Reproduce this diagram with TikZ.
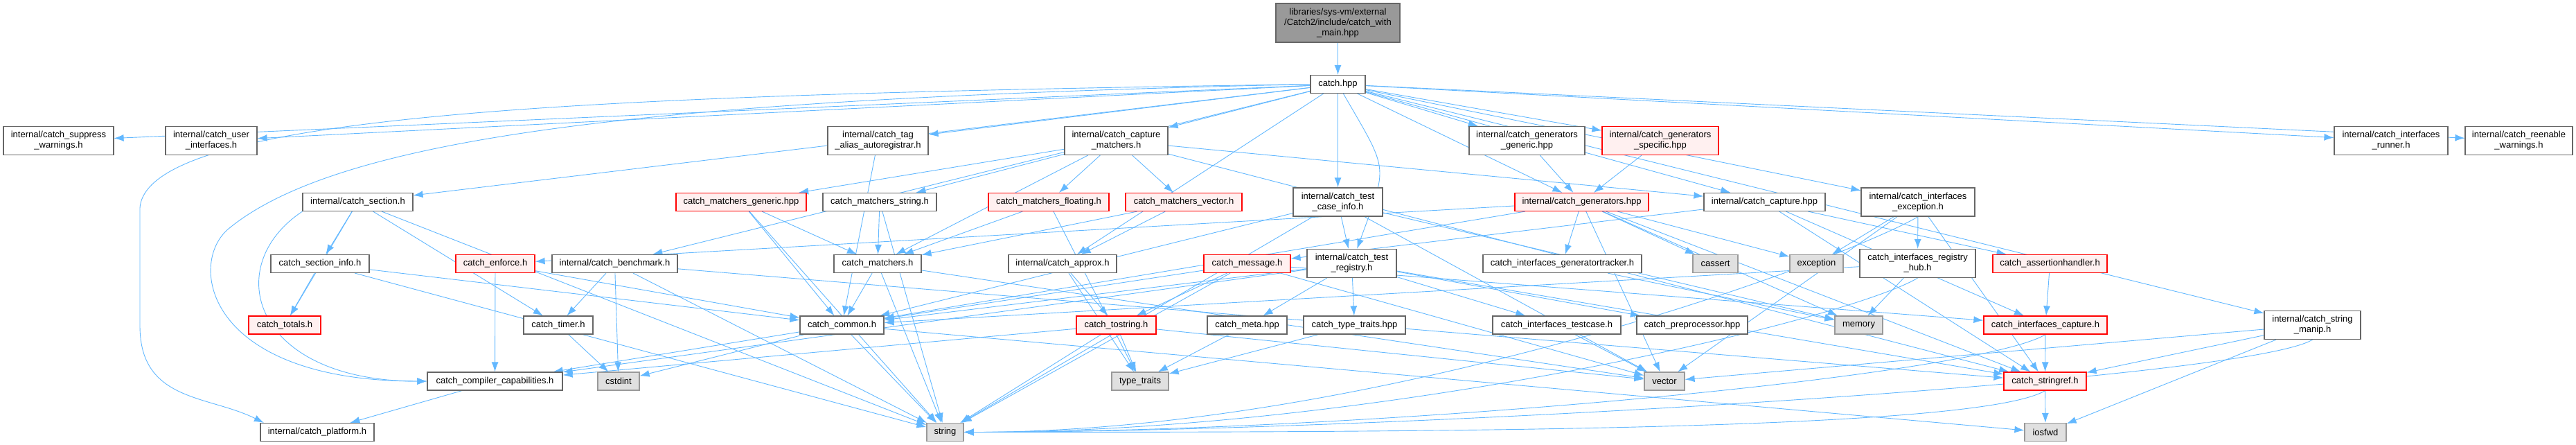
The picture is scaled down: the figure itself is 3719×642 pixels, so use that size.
\documentclass[tikz,border=0pt]{standalone}
\usepackage{fontspec}
\setmainfont{Liberation Sans}
\usepackage{tikz}
\usetikzlibrary{arrows.meta,backgrounds}
\definecolor{edgeBlue}{HTML}{63B8FF}
\definecolor{boxGrey}{HTML}{666666}
\definecolor{leafGrey}{HTML}{999999}
\definecolor{leafFill}{HTML}{E0E0E0}
\definecolor{redFill}{HTML}{FFF0F0}
\definecolor{rootFill}{HTML}{999999}

\begin{document}
\begin{tikzpicture}[x=1pt,y=1pt,
    box/.style={draw=boxGrey,fill=white,line width=1.2pt,inner sep=2pt,
      minimum height=26,align=center,font=\fontsize{13}{15}\selectfont},
    tall/.style={minimum height=41},
    redbox/.style={box,draw=red,fill=redFill},
    leaf/.style={box,draw=leafGrey,fill=leafFill},
    rootbox/.style={box,fill=rootFill,minimum height=56},
    dep/.style={-{Latex[length=14pt,width=10pt]},edgeBlue,line width=0.9pt}]
    \useasboundingbox (0,0) rectangle (3719,-642);

    % top
    \node[rootbox,minimum width=179] (root) at (1931.5,-33)
      {libraries/sys-vm/external\\/Catch2/include/catch\_with\\\_main.hpp};
    \node[box,minimum width=79] (catchhpp) at (1931.5,-121.5) {catch.hpp};

    % first row
    \node[box,tall,minimum width=159] (suppress) at (84.5,-203)
      {internal/catch\_suppress\\\_warnings.h};
    \node[box,tall,minimum width=132] (userif) at (305,-203)
      {internal/catch\_user\\\_interfaces.h};
    \node[box,tall,minimum width=145] (tagalias) at (1267.5,-203)
      {internal/catch\_tag\\\_alias\_autoregistrar.h};
    \node[box,tall,minimum width=149] (capmatch) at (1611.5,-203)
      {internal/catch\_capture\\\_matchers.h};
    \node[box,tall,minimum width=167] (gengeneric) at (2204.5,-203)
      {internal/catch\_generators\\\_generic.hpp};
    \node[redbox,tall,minimum width=168] (genspecific) at (2397,-203)
      {internal/catch\_generators\\\_specific.hpp};
    \node[box,tall,minimum width=164] (runner) at (3452,-203)
      {internal/catch\_interfaces\\\_runner.h};
    \node[box,tall,minimum width=155] (reenable) at (3636.5,-203)
      {internal/catch\_reenable\\\_warnings.h};

    % second row
    \node[box,minimum width=159] (section) at (516.5,-291.5) {internal/catch\_section.h};
    \node[redbox,minimum width=188] (mgeneric) at (1070,-291.5) {catch\_matchers\_generic.hpp};
    \node[box,minimum width=164] (mstring) at (1270,-291.5) {catch\_matchers\_string.h};
    \node[redbox,minimum width=174] (mfloating) at (1514,-291.5) {catch\_matchers\_floating.h};
    \node[redbox,minimum width=168] (mvector) at (1709,-291.5) {catch\_matchers\_vector.h};
    \node[box,tall,minimum width=129] (testcaseinfo) at (1931.5,-291.5)
      {internal/catch\_test\\\_case\_info.h};
    \node[redbox,minimum width=193] (generators) at (2283.5,-291.5) {internal/catch\_generators.hpp};
    \node[box,minimum width=175] (capturehpp) at (2547.5,-291.5) {internal/catch\_capture.hpp};
    \node[box,tall,minimum width=164] (ifexception) at (2769,-291.5)
      {internal/catch\_interfaces\\\_exception.h};

    % third row
    \node[box,minimum width=142] (sectioninfo) at (462,-380.5) {catch\_section\_info.h};
    \node[redbox,minimum width=114] (enforce) at (715,-380.5) {catch\_enforce.h};
    \node[box,minimum width=181] (benchmark) at (887.5,-380.5) {internal/catch\_benchmark.h};
    \node[box,minimum width=126] (matchers) at (1267,-380.5) {catch\_matchers.h};
    \node[box,minimum width=156] (approx) at (1534,-380.5) {internal/catch\_approx.h};
    \node[redbox,minimum width=125] (message) at (1800.5,-380.5) {catch\_message.h};
    \node[box,tall,minimum width=129] (testregistry) at (1951.5,-380)
      {internal/catch\_test\\\_registry.h};
    \node[box,minimum width=229] (gentracker) at (2255.5,-380.5) {catch\_interfaces\_generatortracker.h};
    \node[leaf,minimum width=65] (cassert) at (2476.5,-380.5) {cassert};
    \node[leaf,minimum width=77] (exception) at (2622.5,-380.5) {exception};
    \node[box,tall,minimum width=167] (reghub) at (2768.5,-380)
      {catch\_interfaces\_registry\\\_hub.h};
    \node[redbox,minimum width=165] (assertion) at (2959.5,-380.5) {catch\_assertionhandler.h};

    % fourth row
    \node[redbox,minimum width=104] (totals) at (411,-469) {catch\_totals.h};
    \node[box,minimum width=100] (timer) at (806,-469) {catch\_timer.h};
    \node[box,minimum width=121] (common) at (1215.5,-469) {catch\_common.h};
    \node[redbox,minimum width=115] (tostring) at (1611.5,-469) {catch\_tostring.h};
    \node[box,minimum width=115] (meta) at (1800.5,-469) {catch\_meta.hpp};
    \node[box,minimum width=147] (typetraitshpp) at (1955.5,-469) {catch\_type\_traits.hpp};
    \node[box,minimum width=185] (iftestcase) at (2247.5,-469) {catch\_interfaces\_testcase.h};
    \node[box,minimum width=160] (preproc) at (2443,-469) {catch\_preprocessor.hpp};
    \node[leaf,minimum width=69] (memory) at (2683.5,-469) {memory};
    \node[redbox,minimum width=178] (ifcapture) at (2953,-469) {catch\_interfaces\_capture.h};
    \node[box,tall,minimum width=139] (stringmanip) at (3338.5,-469)
      {internal/catch\_string\\\_manip.h};

    % fifth row
    \node[box,minimum width=195] (compcap) at (714.5,-550) {catch\_compiler\_capabilities.h};
    \node[leaf,minimum width=60] (cstdint) at (893,-550) {cstdint};
    \node[leaf,minimum width=82] (typetraits) at (1646,-550) {type\_traits};
    \node[leaf,minimum width=58] (vector) at (2403,-550) {vector};
    \node[redbox,minimum width=119] (stringref) at (2952.5,-550) {catch\_stringref.h};

    % bottom row
    \node[box,minimum width=164] (platform) at (458,-623.5) {internal/catch\_platform.h};
    \node[leaf,minimum width=53] (string) at (1364.5,-623.5) {string};
    \node[leaf,minimum width=60] (iosfwd) at (2953,-623.5) {iosfwd};

    % bend points of the two long sweeps on the left
    \coordinate (sweepCap) at (330,-330);
    \coordinate (sweepPlat) at (202,-300);

    \begin{scope}[on background layer]
      \draw[dep] (root) -- (catchhpp);
      \foreach \t in {suppress,userif,tagalias,capmatch,gengeneric,genspecific,
          runner,reenable,section,testcaseinfo,generators,capturehpp,
          ifexception,benchmark,approx,stringmanip}
        \draw[dep] (catchhpp) -- (\t);
      \draw[dep] (catchhpp) to[out=-60,in=70,looseness=1.5] (testregistry);
      \draw[dep] (catchhpp.west) .. controls +(-900,-20) and +(170,140) .. (sweepCap)
        .. controls +(-60,-50) and +(-320,0) .. (compcap.west);
      \draw[dep] (catchhpp.west) .. controls +(-1000,-15) and +(10,140) .. (sweepPlat)
        -- +(0,-170) .. controls +(0,-110) and +(-80,40) .. (platform.170);
      \draw[dep] (section.south west) .. controls +(-120,-80) and +(-250,0) .. (compcap.west);

      % long ones running into string from the right
      \foreach \s in {ifexception,reghub,ifcapture,stringref,stringmanip}
        \draw[dep] (\s.south) .. controls +(-100,-60) and +(600,0) .. (string.east);

      \foreach \s/\t in {section/sectioninfo,section/totals,section/timer,
          section/string,
          sectioninfo/totals,sectioninfo/common,sectioninfo/string,
          compcap/platform,enforce/compcap,enforce/common,
          benchmark/timer,benchmark/cstdint,benchmark/string,benchmark/stringref,
          timer/cstdint,
          common/compcap,common/cstdint,common/string,common/iosfwd,
          tagalias/common,
          mgeneric/matchers,mgeneric/common,mgeneric/string,
          mstring/matchers,mstring/string,
          mfloating/matchers,mfloating/typetraits,
          mvector/matchers,mvector/approx,
          matchers/common,matchers/string,matchers/vector,
          capmatch/mgeneric,capmatch/mstring,capmatch/mfloating,capmatch/mvector,
          capmatch/matchers,capmatch/capturehpp,capmatch/stringref,
          testcaseinfo/testregistry,testcaseinfo/common,testcaseinfo/string,
          testcaseinfo/vector,testcaseinfo/memory,
          testregistry/common,testregistry/iftestcase,testregistry/typetraitshpp,
          testregistry/meta,testregistry/preproc,testregistry/stringref,
          testregistry/compcap,
          meta/typetraits,typetraitshpp/typetraits,iftestcase/vector,
          approx/tostring,approx/typetraits,
          tostring/typetraits,tostring/string,tostring/compcap,tostring/vector,
          message/common,message/tostring,message/string,message/ifcapture,
          message/vector,
          capturehpp/message,capturehpp/assertion,capturehpp/ifcapture,
          capturehpp/stringref,
          gengeneric/generators,genspecific/generators,
          generators/gentracker,generators/common,generators/enforce,
          generators/cassert,generators/exception,generators/memory,
          generators/vector,generators/stringref,
          gentracker/memory,
          ifexception/reghub,ifexception/exception,ifexception/vector,
          ifexception/stringref,
          reghub/memory,reghub/common,
          assertion/ifcapture,ifcapture/stringref,
          stringref/iosfwd,
          stringmanip/stringref,stringmanip/iosfwd,stringmanip/vector}
        \draw[dep] (\s) -- (\t);
    \end{scope}
  \end{tikzpicture}
\end{document}
